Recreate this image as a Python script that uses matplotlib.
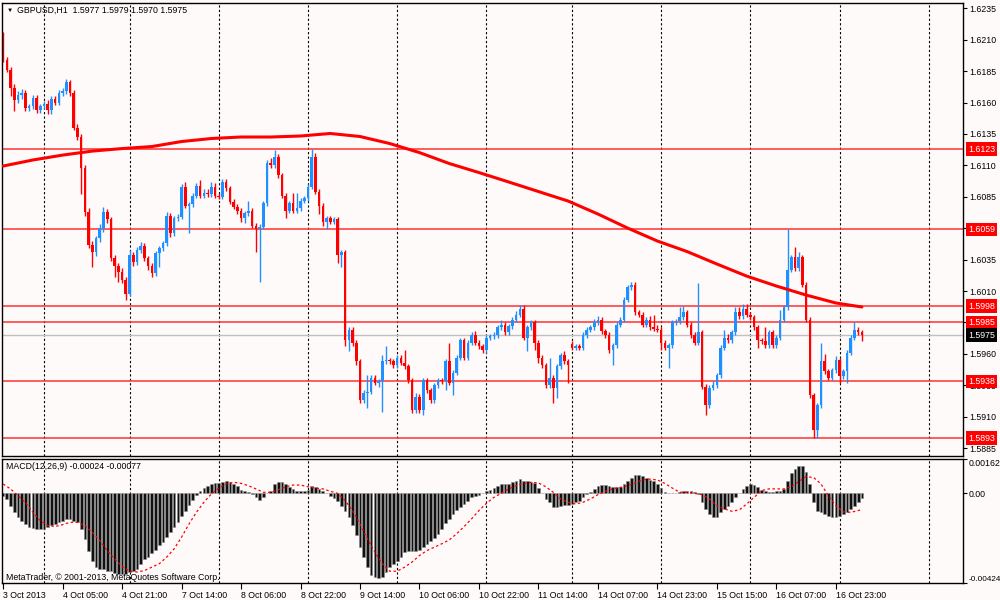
import numpy as np
import matplotlib
matplotlib.use('Agg')
import matplotlib.pyplot as plt
import matplotlib.transforms as mtransforms

plt.rcParams['font.family'] = ['Liberation Sans', 'DejaVu Sans']

# GBPUSD H1 candles, bar 0 = 3 Oct 13:00 ... bar 231 = 17 Oct 06:00
opens = [
    1.6213, 1.6194, 1.6186, 1.6172, 1.6162, 1.6166, 1.6168, 1.6156, 1.6157, 1.6164,
    1.6154, 1.6157, 1.6159, 1.6154, 1.6163, 1.6160, 1.6168, 1.6169, 1.6176, 1.6168,
    1.6140, 1.6133, 1.6108, 1.6073, 1.6047, 1.6041, 1.6052, 1.6060, 1.6073, 1.6067,
    1.6036, 1.6030, 1.6025, 1.6019, 1.6008, 1.6039, 1.6033, 1.6043, 1.6046, 1.6036,
    1.6030, 1.6024, 1.6040, 1.6044, 1.6048, 1.6070, 1.6056, 1.6068, 1.6069, 1.6093,
    1.6078, 1.6079, 1.6086, 1.6094, 1.6086, 1.6088, 1.6087, 1.6093, 1.6086, 1.6085,
    1.6097, 1.6092, 1.6081, 1.6077, 1.6074, 1.6068, 1.6072, 1.6074, 1.6062, 1.6059,
    1.6061, 1.6080, 1.6112, 1.6110, 1.6117, 1.6102, 1.6086, 1.6074, 1.6080, 1.6074,
    1.6076, 1.6082, 1.6084, 1.6093, 1.6117, 1.6089, 1.6078, 1.6065, 1.6068, 1.6065,
    1.6067, 1.6039, 1.6041, 1.5971, 1.5979, 1.5969, 1.5954, 1.5923, 1.5929, 1.5930,
    1.5941, 1.5937, 1.5938, 1.5954, 1.5955, 1.5954, 1.5951, 1.5957, 1.5953, 1.5950,
    1.5939, 1.5915, 1.5926, 1.5915, 1.5939, 1.5931, 1.5923, 1.5935, 1.5939, 1.5938,
    1.5954, 1.5937, 1.5945, 1.5957, 1.5971, 1.5957, 1.5969, 1.5975, 1.5969, 1.5966,
    1.5963, 1.5973, 1.5974, 1.5975, 1.5981, 1.5983, 1.5977, 1.5982, 1.5987, 1.5991,
    1.5996, 1.5973, 1.5981, 1.5985, 1.5969, 1.5957, 1.5951, 1.5935, 1.5941, 1.5933,
    1.5950, 1.5959, 1.5954, 1.5968, 1.5965, 1.5966, 1.5965, 1.5975, 1.5979, 1.5981,
    1.5985, 1.5987, 1.5978, 1.5975, 1.5963, 1.5967, 1.5983, 1.5987, 1.6003, 1.6013,
    1.6015, 1.5993, 1.5991, 1.5983, 1.5987, 1.5981, 1.5980, 1.5979, 1.5969, 1.5965,
    1.5967, 1.5985, 1.5986, 1.5989, 1.5993, 1.5983, 1.5975, 1.5969, 1.5977, 1.5934,
    1.5919, 1.5933, 1.5935, 1.5943, 1.5965, 1.5973, 1.5971, 1.5977, 1.5993, 1.5990,
    1.5996, 1.5991, 1.5989, 1.5981, 1.5971, 1.5970, 1.5967, 1.5977, 1.5967, 1.5973,
    1.5987, 1.5997, 1.6027, 1.6037, 1.6028, 1.6037, 1.6015, 1.5987, 1.5927, 1.5899,
    1.5919, 1.5954, 1.5946, 1.5941, 1.5947, 1.5955, 1.5942, 1.5946, 1.5961, 1.5973,
    1.5979, 1.5977,
]
highs = [
    1.6216, 1.6196, 1.6188, 1.6175, 1.6169, 1.6171, 1.6170, 1.6159, 1.6166, 1.6166,
    1.6159, 1.6161, 1.6162, 1.6165, 1.6165, 1.6170, 1.6172, 1.6179, 1.6178, 1.6170,
    1.6143, 1.6135, 1.6110, 1.6076, 1.6050, 1.6054, 1.6063, 1.6077, 1.6075, 1.6069,
    1.6039, 1.6032, 1.6028, 1.6021, 1.6043, 1.6041, 1.6045, 1.6049, 1.6048, 1.6038,
    1.6032, 1.6042, 1.6046, 1.6050, 1.6073, 1.6072, 1.6070, 1.6071, 1.6095, 1.6097,
    1.6081, 1.6088, 1.6096, 1.6098, 1.6091, 1.6091, 1.6097, 1.6096, 1.6088, 1.6099,
    1.6099, 1.6094, 1.6083, 1.6079, 1.6076, 1.6074, 1.6082, 1.6076, 1.6064, 1.6063,
    1.6082, 1.6114, 1.6116, 1.6122, 1.6119, 1.6104, 1.6088, 1.6082, 1.6088, 1.6088,
    1.6084, 1.6086, 1.6095, 1.6123, 1.6120, 1.6091, 1.6080, 1.6070, 1.6070, 1.6069,
    1.6069, 1.6043, 1.6043, 1.5981, 1.5981, 1.5971, 1.5956, 1.5931, 1.5943, 1.5943,
    1.5943, 1.5940, 1.5959, 1.5966, 1.5957, 1.5956, 1.5959, 1.5959, 1.5963, 1.5952,
    1.5941, 1.5929, 1.5928, 1.5941, 1.5941, 1.5933, 1.5937, 1.5941, 1.5941, 1.5956,
    1.5969, 1.5947, 1.5959, 1.5973, 1.5973, 1.5971, 1.5977, 1.5978, 1.5971, 1.5968,
    1.5975, 1.5976, 1.5977, 1.5983, 1.5987, 1.5985, 1.5984, 1.5989, 1.5994, 1.5999,
    1.5999, 1.5983, 1.5987, 1.5987, 1.5971, 1.5959, 1.5953, 1.5957, 1.5943, 1.5952,
    1.5961, 1.5962, 1.5956, 1.5970, 1.5968, 1.5968, 1.5977, 1.5981, 1.5983, 1.5988,
    1.5990, 1.5989, 1.5980, 1.5977, 1.5969, 1.5985, 1.5989, 1.6005, 1.6015, 1.6017,
    1.6017, 1.5995, 1.5993, 1.5989, 1.5990, 1.5991, 1.5983, 1.5981, 1.5971, 1.5969,
    1.5987, 1.5988, 1.5997, 1.5998, 1.5995, 1.5985, 1.5977, 1.6016, 1.5979, 1.5936,
    1.5935, 1.5938, 1.5945, 1.5967, 1.5979, 1.5976, 1.5979, 1.5997, 1.5997, 1.6000,
    1.6000, 1.5993, 1.5991, 1.5983, 1.5973, 1.5981, 1.5979, 1.5979, 1.5975, 1.5995,
    1.5999, 1.6059, 1.6039, 1.6045, 1.6041, 1.6039, 1.6017, 1.5989, 1.5929, 1.5921,
    1.5969, 1.5960, 1.5948, 1.5949, 1.5958, 1.5957, 1.5948, 1.5963, 1.5975, 1.5985,
    1.5981, 1.5979,
]
lows = [
    1.6192, 1.6184, 1.6165, 1.6153, 1.6160, 1.6163, 1.6153, 1.6153, 1.6155, 1.6152,
    1.6152, 1.6155, 1.6151, 1.6151, 1.6158, 1.6158, 1.6165, 1.6167, 1.6165, 1.6138,
    1.6130, 1.6087, 1.6070, 1.6044, 1.6029, 1.6038, 1.6049, 1.6057, 1.6064, 1.6034,
    1.6021, 1.6017, 1.6016, 1.6003, 1.6006, 1.6030, 1.6031, 1.6040, 1.6034, 1.6027,
    1.6021, 1.6022, 1.6029, 1.6042, 1.6046, 1.6053, 1.6054, 1.6066, 1.6067, 1.6076,
    1.6056, 1.6077, 1.6084, 1.6084, 1.6084, 1.6085, 1.6085, 1.6084, 1.6083, 1.6083,
    1.6090, 1.6079, 1.6075, 1.6071, 1.6065, 1.6064, 1.6070, 1.6060, 1.6041, 1.6017,
    1.6059, 1.6078, 1.6108, 1.6108, 1.6100, 1.6084, 1.6068, 1.6072, 1.6072, 1.6072,
    1.6074, 1.6080, 1.6082, 1.6091, 1.6087, 1.6071, 1.6062, 1.6059, 1.6063, 1.6063,
    1.6032, 1.6029, 1.5966, 1.5962, 1.5966, 1.5951, 1.5921, 1.5921, 1.5917, 1.5928,
    1.5935, 1.5934, 1.5914, 1.5952, 1.5952, 1.5949, 1.5949, 1.5951, 1.5948, 1.5937,
    1.5913, 1.5913, 1.5913, 1.5911, 1.5929, 1.5921, 1.5921, 1.5933, 1.5936, 1.5931,
    1.5935, 1.5927, 1.5943, 1.5955, 1.5955, 1.5955, 1.5967, 1.5967, 1.5964, 1.5961,
    1.5961, 1.5971, 1.5972, 1.5973, 1.5979, 1.5975, 1.5975, 1.5980, 1.5985, 1.5989,
    1.5971, 1.5962, 1.5979, 1.5963, 1.5953, 1.5949, 1.5933, 1.5933, 1.5921, 1.5925,
    1.5948, 1.5952, 1.5937, 1.5963, 1.5963, 1.5963, 1.5963, 1.5973, 1.5977, 1.5979,
    1.5983, 1.5976, 1.5973, 1.5961, 1.5951, 1.5965, 1.5981, 1.5985, 1.6001, 1.6011,
    1.5991, 1.5989, 1.5981, 1.5981, 1.5979, 1.5978, 1.5977, 1.5963, 1.5963, 1.5949,
    1.5965, 1.5983, 1.5984, 1.5987, 1.5981, 1.5973, 1.5967, 1.5967, 1.5932, 1.5911,
    1.5917, 1.5931, 1.5933, 1.5941, 1.5963, 1.5969, 1.5969, 1.5975, 1.5988, 1.5988,
    1.5989, 1.5987, 1.5979, 1.5965, 1.5968, 1.5965, 1.5965, 1.5965, 1.5965, 1.5971,
    1.5985, 1.5995, 1.6025, 1.6026, 1.6026, 1.6013, 1.5985, 1.5925, 1.5893, 1.5893,
    1.5917, 1.5944, 1.5939, 1.5939, 1.5945, 1.5937, 1.5940, 1.5937, 1.5959, 1.5971,
    1.5975, 1.5970,
]
closes = [
    1.6194, 1.6186, 1.6172, 1.6162, 1.6166, 1.6168, 1.6156, 1.6157, 1.6164, 1.6154,
    1.6157, 1.6159, 1.6154, 1.6163, 1.6160, 1.6168, 1.6169, 1.6176, 1.6168, 1.6140,
    1.6133, 1.6108, 1.6073, 1.6047, 1.6041, 1.6052, 1.6060, 1.6073, 1.6067, 1.6036,
    1.6030, 1.6025, 1.6019, 1.6008, 1.6039, 1.6033, 1.6043, 1.6046, 1.6036, 1.6030,
    1.6024, 1.6040, 1.6044, 1.6048, 1.6070, 1.6056, 1.6068, 1.6069, 1.6093, 1.6078,
    1.6079, 1.6086, 1.6094, 1.6086, 1.6088, 1.6087, 1.6093, 1.6086, 1.6085, 1.6097,
    1.6092, 1.6081, 1.6077, 1.6074, 1.6068, 1.6072, 1.6074, 1.6062, 1.6059, 1.6061,
    1.6080, 1.6112, 1.6110, 1.6117, 1.6102, 1.6086, 1.6074, 1.6080, 1.6074, 1.6076,
    1.6082, 1.6084, 1.6093, 1.6117, 1.6089, 1.6078, 1.6065, 1.6068, 1.6065, 1.6067,
    1.6039, 1.6041, 1.5971, 1.5979, 1.5969, 1.5954, 1.5923, 1.5929, 1.5930, 1.5941,
    1.5937, 1.5938, 1.5954, 1.5955, 1.5954, 1.5951, 1.5957, 1.5953, 1.5950, 1.5939,
    1.5915, 1.5926, 1.5915, 1.5939, 1.5931, 1.5923, 1.5935, 1.5939, 1.5938, 1.5954,
    1.5937, 1.5945, 1.5957, 1.5971, 1.5957, 1.5969, 1.5975, 1.5969, 1.5966, 1.5963,
    1.5973, 1.5974, 1.5975, 1.5981, 1.5983, 1.5977, 1.5982, 1.5987, 1.5991, 1.5996,
    1.5973, 1.5981, 1.5985, 1.5969, 1.5957, 1.5951, 1.5935, 1.5941, 1.5933, 1.5950,
    1.5959, 1.5954, 1.5951, 1.5965, 1.5966, 1.5965, 1.5975, 1.5979, 1.5981, 1.5985,
    1.5987, 1.5978, 1.5975, 1.5963, 1.5967, 1.5983, 1.5987, 1.6003, 1.6013, 1.6015,
    1.5993, 1.5991, 1.5983, 1.5987, 1.5981, 1.5980, 1.5979, 1.5969, 1.5965, 1.5967,
    1.5985, 1.5986, 1.5989, 1.5993, 1.5983, 1.5975, 1.5969, 1.5977, 1.5934, 1.5919,
    1.5933, 1.5935, 1.5943, 1.5965, 1.5973, 1.5971, 1.5977, 1.5993, 1.5990, 1.5996,
    1.5991, 1.5989, 1.5981, 1.5971, 1.5970, 1.5967, 1.5977, 1.5967, 1.5973, 1.5987,
    1.5997, 1.6027, 1.6037, 1.6028, 1.6037, 1.6015, 1.5987, 1.5927, 1.5899, 1.5919,
    1.5954, 1.5946, 1.5941, 1.5947, 1.5955, 1.5942, 1.5946, 1.5961, 1.5973, 1.5979,
    1.5977, 1.5975,
]

# moving average read every 8 bars
ma_bars = [0, 8, 16, 24, 32, 40, 48, 56, 64, 72, 80, 88, 96, 104, 112,
           120, 128, 136, 144, 152, 160, 168, 176, 184, 192, 200, 208, 216, 224, 231]
ma_values = [1.61095, 1.61143, 1.61182, 1.61214, 1.61234, 1.61250, 1.61290, 1.61314,
             1.61326, 1.61326, 1.61334, 1.61354, 1.61330, 1.61274, 1.61202, 1.61115,
             1.61043, 1.60968, 1.60892, 1.60816, 1.60713, 1.60601, 1.60498, 1.60414,
             1.60315, 1.60219, 1.60140, 1.60068, 1.60005, 1.59973]

# horizontal levels drawn on the chart
levels = [1.6123, 1.6059, 1.5998, 1.5985, 1.5938, 1.5893]
last_price = 1.5975
price_ticks = [1.5885, 1.5910, 1.5935, 1.5960, 1.5985, 1.6010, 1.6035, 1.6060,
               1.6085, 1.6110, 1.6135, 1.6160, 1.6185, 1.6210, 1.6235]

# MACD(12,26,9) main line, one value per bar
macd_main = [
    -0.00012, -0.00027, -0.00059, -0.00090, -0.00113, -0.00129, -0.00145, -0.00157, -0.00163, -0.00168,
    -0.00168, -0.00168, -0.00160, -0.00152, -0.00145, -0.00137, -0.00129, -0.00121, -0.00121, -0.00129,
    -0.00137, -0.00168, -0.00215, -0.00270, -0.00317, -0.00348, -0.00356, -0.00356, -0.00364, -0.00364,
    -0.00376, -0.00379, -0.00379, -0.00379, -0.00371, -0.00367, -0.00356, -0.00332, -0.00309, -0.00298,
    -0.00282, -0.00266, -0.00246, -0.00231, -0.00204, -0.00181, -0.00157, -0.00134, -0.00107, -0.00082,
    -0.00055, -0.00032, -0.00008, 0.00010, 0.00024, 0.00035, 0.00043, 0.00048, 0.00049, 0.00052,
    0.00059, 0.00054, 0.00043, 0.00035, 0.00015, 0.00009, 0.00004, -0.00004, -0.00016, -0.00030,
    -0.00020, -0.00001, 0.00012, 0.00043, 0.00054, 0.00054, 0.00043, 0.00027, 0.00020, 0.00012,
    0.00009, 0.00009, 0.00015, 0.00035, 0.00030, 0.00020, 0.00009, -0.00001, -0.00012, -0.00024,
    -0.00035, -0.00059, -0.00082, -0.00113, -0.00152, -0.00199, -0.00254, -0.00301, -0.00348, -0.00387,
    -0.00395, -0.00398, -0.00392, -0.00371, -0.00348, -0.00332, -0.00317, -0.00301, -0.00277, -0.00270,
    -0.00270, -0.00270, -0.00266, -0.00254, -0.00238, -0.00226, -0.00210, -0.00191, -0.00168, -0.00141,
    -0.00121, -0.00098, -0.00079, -0.00066, -0.00051, -0.00035, -0.00020, -0.00012, -0.00007, 0.00002,
    0.00012, 0.00016, 0.00024, 0.00035, 0.00043, 0.00043, 0.00043, 0.00051, 0.00059, 0.00066,
    0.00059, 0.00055, 0.00051, 0.00048, 0.00024, -0.00001, -0.00027, -0.00043, -0.00063, -0.00063,
    -0.00059, -0.00054, -0.00054, -0.00051, -0.00043, -0.00035, -0.00020, -0.00004, 0.00004, 0.00020,
    0.00035, 0.00038, 0.00038, 0.00035, 0.00027, 0.00027, 0.00030, 0.00043, 0.00055, 0.00071,
    0.00085, 0.00085, 0.00082, 0.00071, 0.00062, 0.00055, 0.00043, 0.00024, 0.00004, 0.00001,
    0.00001, 0.00002, 0.00004, 0.00012, 0.00012, 0.00009, 0.00004, -0.00004, -0.00043, -0.00074,
    -0.00098, -0.00113, -0.00113, -0.00090, -0.00074, -0.00059, -0.00043, -0.00020, -0.00001, 0.00020,
    0.00035, 0.00043, 0.00038, 0.00027, 0.00015, 0.00012, 0.00004, 0.00007, 0.00009, 0.00012,
    0.00020, 0.00059, 0.00093, 0.00113, 0.00129, 0.00129, 0.00098, 0.00043, -0.00043, -0.00082,
    -0.00090, -0.00098, -0.00106, -0.00113, -0.00110, -0.00106, -0.00098, -0.00090, -0.00074, -0.00059,
    -0.00043, -0.00024,
]

# signal line read every second bar
signal_bars = list(range(0, 231, 2)) + [231]
signal_values = [
    0.00043, 0.00020, -0.00012, -0.00043, -0.00090, -0.00129, -0.00152, -0.00157, -0.00148, -0.00137,
    -0.00137, -0.00152, -0.00184, -0.00223, -0.00270, -0.00309, -0.00345, -0.00367, -0.00371, -0.00364,
    -0.00348, -0.00332, -0.00301, -0.00262, -0.00207, -0.00145, -0.00090, -0.00043, -0.00004, 0.00024,
    0.00043, 0.00051, 0.00046, 0.00035, 0.00020, 0.00004, 0.00004, 0.00015, 0.00030, 0.00038,
    0.00038, 0.00030, 0.00024, 0.00020, 0.00009, -0.00001, -0.00035, -0.00082, -0.00145, -0.00215,
    -0.00277, -0.00332, -0.00367, -0.00367, -0.00348, -0.00324, -0.00293, -0.00270, -0.00254, -0.00238,
    -0.00220, -0.00191, -0.00157, -0.00121, -0.00082, -0.00048, -0.00020, -0.00001, 0.00020, 0.00035,
    0.00046, 0.00051, 0.00048, 0.00030, 0.00004, -0.00027, -0.00043, -0.00051, -0.00043, -0.00027,
    -0.00007, 0.00009, 0.00020, 0.00027, 0.00035, 0.00048, 0.00062, 0.00066, 0.00062, 0.00046,
    0.00024, 0.00004, 0.00004, -0.00001, -0.00007, -0.00027, -0.00059, -0.00074, -0.00085, -0.00079,
    -0.00051, -0.00020, 0.00012, 0.00020, 0.00020, 0.00020, 0.00030, 0.00055, 0.00077, 0.00074,
    0.00043, -0.00012, -0.00059, -0.00088, -0.00090, -0.00082, -0.00077,
]

# time axis: a label every 16 bars, grid at each midnight
time_labels = ['3 Oct 2013', '4 Oct 05:00', '4 Oct 21:00', '7 Oct 14:00', '8 Oct 06:00',
               '8 Oct 22:00', '9 Oct 14:00', '10 Oct 06:00', '10 Oct 22:00', '11 Oct 14:00',
               '14 Oct 07:00', '14 Oct 23:00', '15 Oct 15:00', '16 Oct 07:00', '16 Oct 23:00']
label_bars = [0, 16, 32, 48, 64, 80, 96, 112, 128, 144, 160, 176, 192, 208, 224]
midnight_bars = [11, 34, 58, 82, 106, 130, 153, 177, 201, 225, 249]

bg = '#FFFAFA'
bull = '#1E90FF'
bear = '#FF0000'
fs = 6.3

fig = plt.figure(figsize=(10, 6), dpi=100, facecolor=bg)
ax1 = fig.add_axes([0.002, 0.24, 0.961, 0.7555])
ax2 = fig.add_axes([0.002, 0.0278, 0.961, 0.2077])

for ax in (ax1, ax2):
    ax.set_facecolor(bg)
    ax.set_xlim(-0.3, 258.2)
    for s in ax.spines.values():
        s.set_color('black')
        s.set_linewidth(1)
    for b in midnight_bars:
        ax.axvline(b, color='black', lw=0.8, ls=(0, (2, 2)), zorder=1)

# price panel
o = np.array(opens)
h = np.array(highs)
l = np.array(lows)
c = np.array(closes)
idx = np.arange(len(c))
cols = np.where(c >= o, bull, bear)

for lvl in levels:
    ax1.axhline(lvl, color='#FF3030', lw=1.1, zorder=1.5)
ax1.axhline(last_price, color='#C0C0C0', lw=1, zorder=1.5)

ax1.vlines(idx, l, h, colors=cols, lw=1, zorder=2)
body = np.maximum(np.abs(c - o), 0.00008)
ax1.bar(idx, body, bottom=np.minimum(o, c), width=0.7, color=cols, linewidth=0, zorder=2.2)

ax1.plot(ma_bars, ma_values, color='#FF0000', lw=2.2, solid_capstyle='round', zorder=3)

ax1.set_ylim(1.58787, 1.62395)
ax1.yaxis.tick_right()
ax1.set_yticks(price_ticks)
ax1.set_yticklabels([f'{t:.4f}' for t in price_ticks])
ax1.tick_params(axis='y', labelsize=fs, length=3, width=0.8, pad=1.5, colors='black')
ax1.set_xticks([])

trans = mtransforms.blended_transform_factory(ax1.transAxes, ax1.transData)
for lvl in levels:
    ax1.text(1.005, lvl, f'{lvl:.4f}', transform=trans, ha='left', va='center',
             color='white', fontsize=fs, clip_on=False, zorder=6,
             bbox=dict(boxstyle='square,pad=0.25', fc='#FF0000', ec='none'))
ax1.text(1.005, last_price, f'{last_price:.4f}', transform=trans, ha='left', va='center',
         color='white', fontsize=fs, clip_on=False, zorder=6,
         bbox=dict(boxstyle='square,pad=0.25', fc='black', ec='none'))

ax1.text(0.0045, 0.984, '\u25bc', transform=ax1.transAxes, fontsize=4.5,
         ha='left', va='center', color='black')
ax1.text(0.0156, 0.984, 'GBPUSD,H1  1.5977 1.5979 1.5970 1.5975', transform=ax1.transAxes,
         fontsize=fs, ha='left', va='center', color='black')

# MACD panel
ax2.bar(idx, macd_main, width=0.72, color='#111111', edgecolor='#8C8C8C', linewidth=0.4, zorder=2)
ax2.plot(signal_bars, signal_values, color='#FF0000', lw=0.9, ls=(0, (2, 2)), zorder=3)
ax2.set_ylim(-0.00424, 0.00162)
ax2.yaxis.tick_right()
ax2.set_yticks([0.00162, 0.0, -0.00424])
ax2.set_yticklabels(['0.00162', '0.00', '-0.00424'])
ax2.tick_params(axis='y', labelsize=fs, length=3, width=0.8, pad=1.0, colors='black')
ylabs = ax2.get_yticklabels()
ylabs[0].set_va('top')
ylabs[2].set_va('bottom')
ylabs[2].set_fontsize(5.9)

ax2.set_xticks(label_bars)
ax2.set_xticklabels(time_labels)
ax2.tick_params(axis='x', labelsize=fs, length=4, width=0.8, pad=1.5, colors='black')
for lab in ax2.get_xticklabels():
    lab.set_ha('left')

ax2.text(0.004, 0.935, 'MACD(12,26,9) -0.00024 -0.00077', transform=ax2.transAxes,
         fontsize=fs, ha='left', va='center', color='black')
ax2.text(0.004, 0.05, 'MetaTrader, \u00a9 2001-2013, MetaQuotes Software Corp.',
         transform=ax2.transAxes, fontsize=fs, ha='left', va='center', color='black', zorder=5)

fig.savefig('out.png', dpi=100, facecolor=bg)
